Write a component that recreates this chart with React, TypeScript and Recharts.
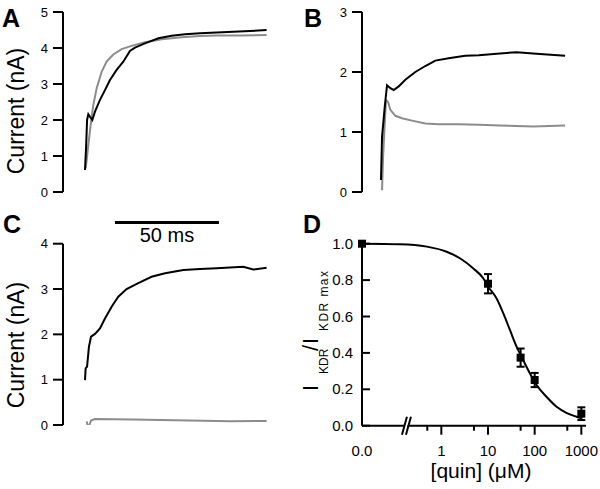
import React from "react";
import {
  LineChart,
  Line,
  XAxis,
  YAxis,
  ComposedChart,
  Scatter,
  ErrorBar,
  ReferenceLine,
  ReferenceDot,
} from "recharts";

// traces: time in ms from the start of each trace, current in nA
const aCtrlTime = [0, 0.5, 1.0, 1.6, 2.4, 3.5, 4.8, 7.2, 9.6, 12, 15.2, 18.4, 21.6, 24, 28.8, 35.3, 41.7, 48.1, 55.3, 63.3, 71.3, 79.3, 87.3];
const aCtrlCurrent = [0.61, 1.21, 2.0, 2.16, 2.09, 2.0, 2.23, 2.56, 2.83, 3.11, 3.39, 3.62, 3.92, 4.01, 4.13, 4.27, 4.34, 4.38, 4.41, 4.43, 4.45, 4.47, 4.5];
const aDrugTime = [0.3, 0.7, 1.6, 2.9, 4.0, 5.6, 8.0, 10.4, 13.6, 17.6, 22.4, 28.8, 36.9, 46.5, 55.3, 63.3, 75, 87.3];
const aDrugCurrent = [0.66, 0.84, 1.31, 1.95, 2.42, 2.88, 3.34, 3.62, 3.82, 3.97, 4.06, 4.16, 4.24, 4.3, 4.33, 4.35, 4.35, 4.36];

const bCtrlTime = [0, 0.5, 1.8, 2.9, 4.5, 6.1, 8.5, 11.7, 16.5, 21.3, 26.1, 32.5, 40.5, 47, 57.2, 65.2, 76.4, 88.5];
const bCtrlCurrent = [0.2, 0.92, 1.42, 1.78, 1.73, 1.7, 1.76, 1.87, 2.0, 2.1, 2.19, 2.23, 2.27, 2.28, 2.31, 2.33, 2.3, 2.27];
const bDrugTime = [0.5, 1.0, 1.8, 2.4, 3.4, 4.5, 6.9, 10.1, 14.9, 21.3, 27.7, 37.3, 47, 57.2, 73.2, 88.5];
const bDrugCurrent = [0.03, 0.59, 1.14, 1.53, 1.5, 1.37, 1.27, 1.23, 1.19, 1.14, 1.13, 1.13, 1.12, 1.11, 1.09, 1.11];

const cCtrlTime = [0, 0.3, 1.0, 1.9, 2.9, 4.8, 7.2, 9.6, 12.8, 16, 20, 25.6, 32, 38.5, 47.3, 55.3, 63.3, 76.1, 80.9, 87.3];
const cCtrlCurrent = [0.99, 1.25, 1.29, 1.73, 1.95, 2.01, 2.13, 2.35, 2.61, 2.83, 3.0, 3.13, 3.27, 3.35, 3.42, 3.44, 3.46, 3.49, 3.43, 3.47];
const cDrugTime = [0.8, 1.6, 2.9, 4.8, 23, 50, 70, 87.3];
const cDrugCurrent = [0.08, -0.07, 0.1, 0.13, 0.12, 0.1, 0.08, 0.09];

const aTicks = [0, 1, 2, 3, 4, 5];
const bTicks = [0, 1, 2, 3];
const cTicks = [0, 1, 2, 3, 4];

// scale bar (ms), drawn in panel C
const SCALE_BAR_START = 14.4;
const SCALE_BAR_MS = 50;

// dose-response
const doseConc = [0, 10, 50, 100, 1000];
const doseFrac = [1.0, 0.78, 0.374, 0.251, 0.066];
const doseSem = [0, 0.053, 0.05, 0.039, 0.035];

const fitConc = [0, 0.13, 0.49, 1.3, 2.5, 4.8, 7.9, 10, 15.2, 21.2, 29.5, 41, 56.7, 78.9, 110, 179, 295, 478, 789, 1000];
const fitFrac = [1.0, 0.997, 0.984, 0.956, 0.92, 0.865, 0.81, 0.765, 0.7, 0.618, 0.526, 0.434, 0.361, 0.288, 0.224, 0.159, 0.104, 0.071, 0.049, 0.04];

const dTickConc = [0, 0.5, 1, 5, 10, 50, 100, 500, 1000];
const dTickLabels = ["0.0", "", "1", "", "10", "", "100", "", "1000"];
const dYTicks = [0, 0.2, 0.4, 0.6, 0.8, 1.0];

const PX_PER_MS = 2.08;
const ZERO_POS = -1.7; // where 0 µM sits on the broken log axis
const FONT = "'Liberation Sans', Arial, Helvetica, sans-serif";

const toAxis = (c: number) => (c === 0 ? ZERO_POS : Math.log10(c));
const zip = (t: number[], v: number[]) => t.map((x, i) => ({ x, y: v[i] }));

// y ticks of the current traces: tick points out, label to its left
const TraceYTick = (props: any) => {
  const { x, y, payload } = props;
  return (
    <g>
      <line x1={x + 5} y1={y} x2={x + 15} y2={y} stroke="#000" strokeWidth={2} />
      <text x={x} y={y + 4.5} textAnchor="end" fontSize={13} fill="#000">
        {payload.value}
      </text>
    </g>
  );
};

function TracePanel(props: any) {
  const { left, top, height, marginTop, plotHeight, axisWidth, startOffset, yMax, ticks, ctrl, drug, scaleBar } = props;
  const rightMargin = 28;
  const plotWidth = 300 - axisWidth - rightMargin;
  const t0 = -startOffset / PX_PER_MS;
  return (
    <div style={{ position: "absolute", left, top }}>
      <LineChart
        width={300}
        height={height}
        margin={{ top: marginTop, right: rightMargin, bottom: height - marginTop - plotHeight, left: 0 }}
      >
        <XAxis type="number" dataKey="x" hide domain={[t0, t0 + plotWidth / PX_PER_MS]} allowDataOverflow />
        <YAxis
          type="number"
          width={axisWidth}
          domain={[0, yMax]}
          ticks={ticks}
          allowDataOverflow
          interval={0}
          axisLine={{ stroke: "#000", strokeWidth: 2 }}
          tickLine={false}
          tickSize={10}
          tickMargin={5}
          tick={<TraceYTick />}
        />
        <Line data={drug} dataKey="y" stroke="#8c8c8c" strokeWidth={2} dot={false} isAnimationActive={false} />
        <Line data={ctrl} dataKey="y" stroke="#000" strokeWidth={2} dot={false} isAnimationActive={false} />
        {scaleBar && (
          <ReferenceLine
            segment={[
              { x: SCALE_BAR_START, y: 4.47 },
              { x: SCALE_BAR_START + SCALE_BAR_MS, y: 4.47 },
            ]}
            ifOverflow="visible"
            stroke="#000"
            strokeWidth={3}
            label={{ value: `${SCALE_BAR_MS} ms`, position: "bottom", offset: 5, fontSize: 20, fill: "#000" }}
          />
        )}
      </LineChart>
    </div>
  );
}

const DXTick = (props: any) => {
  const { x, y, payload } = props;
  const idx = dTickConc.findIndex((c) => Math.abs(toAxis(c) - payload.value) < 1e-6);
  const label = idx >= 0 ? dTickLabels[idx] : "";
  const major = label !== "";
  return (
    <g>
      {idx !== 0 && (
        <line x1={x} y1={y} x2={x} y2={y + (major ? 9 : 5)} stroke="#000" strokeWidth={2} />
      )}
      {major && (
        <text x={x} y={y + 30} textAnchor="middle" fontSize={15} fill="#000">
          {label}
        </text>
      )}
    </g>
  );
};

const DYTick = (props: any) => {
  const { x, y, payload } = props;
  return (
    <g>
      <line x1={x + 9} y1={y} x2={x + 17} y2={y} stroke="#000" strokeWidth={2} />
      <text x={x} y={y + 5} textAnchor="end" fontSize={15} fill="#000">
        {Number(payload.value).toFixed(1)}
      </text>
    </g>
  );
};

const AxisBreak = (props: any) => {
  const { cx, cy } = props;
  return (
    <g>
      <polygon points={`${cx - 4},${cy + 9} ${cx + 1},${cy - 9} ${cx + 4},${cy - 9} ${cx - 1},${cy + 9}`} fill="#fff" />
      <line x1={cx - 4} y1={cy + 9} x2={cx + 1} y2={cy - 9} stroke="#000" strokeWidth={2} />
      <line x1={cx} y1={cy + 9} x2={cx + 5} y2={cy - 9} stroke="#000" strokeWidth={2} />
    </g>
  );
};

function DosePanel() {
  const points = doseConc.map((c, i) => ({ x: toAxis(c), y: doseFrac[i], err: doseSem[i] }));
  const fit = fitConc.map((c, i) => ({ x: toAxis(c), y: fitFrac[i] }));
  return (
    <div style={{ position: "absolute", left: 300, top: 200 }}>
      <ComposedChart width={300} height={289} margin={{ top: 43.7, right: 14, bottom: 23.3, left: 0 }}>
        <XAxis
          type="number"
          dataKey="x"
          height={40}
          domain={[ZERO_POS, 3.1]}
          ticks={dTickConc.map(toAxis)}
          interval={0}
          axisLine={{ stroke: "#000", strokeWidth: 2 }}
          tickLine={false}
          tickSize={0}
          tickMargin={0}
          tick={<DXTick />}
        />
        <YAxis
          type="number"
          width={62}
          domain={[0, 1]}
          ticks={dYTicks}
          interval={0}
          axisLine={{ stroke: "#000", strokeWidth: 2 }}
          tickLine={false}
          tickSize={0}
          tickMargin={9}
          tick={<DYTick />}
        />
        <Line data={fit} dataKey="y" type="monotone" stroke="#000" strokeWidth={2} dot={false} isAnimationActive={false} />
        <Scatter data={points} dataKey="y" shape="square" fill="#000" isAnimationActive={false}>
          <ErrorBar dataKey="err" direction="y" width={4} stroke="#000" strokeWidth={2} isAnimationActive={false} />
        </Scatter>
        <ReferenceDot x={-0.758} y={0} r={0} ifOverflow="visible" shape={<AxisBreak />} zIndex={1000} />
      </ComposedChart>
    </div>
  );
}

export default function App() {
  return (
    <div
      style={{
        position: "absolute",
        left: 0,
        top: 0,
        width: 600,
        height: 489,
        background: "#fff",
        fontFamily: FONT,
        overflow: "hidden",
      }}
    >
      <TracePanel
        left={0}
        top={0}
        height={210}
        marginTop={12}
        plotHeight={180}
        axisWidth={63}
        startOffset={22}
        yMax={5}
        ticks={aTicks}
        ctrl={zip(aCtrlTime, aCtrlCurrent)}
        drug={zip(aDrugTime, aDrugCurrent)}
      />
      <TracePanel
        left={300}
        top={0}
        height={210}
        marginTop={12}
        plotHeight={180}
        axisWidth={62}
        startOffset={19}
        yMax={3}
        ticks={bTicks}
        ctrl={zip(bCtrlTime, bCtrlCurrent)}
        drug={zip(bDrugTime, bDrugCurrent)}
      />
      <TracePanel
        left={0}
        top={200}
        height={250}
        marginTop={43.7}
        plotHeight={181.3}
        axisWidth={63}
        startOffset={22}
        yMax={4}
        ticks={cTicks}
        ctrl={zip(cCtrlTime, cCtrlCurrent)}
        drug={zip(cDrugTime, cDrugCurrent)}
        scaleBar
      />
      <DosePanel />
      <svg
        width={600}
        height={489}
        style={{ position: "absolute", left: 0, top: 0, pointerEvents: "none" }}
        fontFamily={FONT}
      >
        <g fontWeight="bold" fontSize={25} fill="#000">
          <text x={2} y={27}>A</text>
          <text x={304} y={27}>B</text>
          <text x={3} y={233}>C</text>
          <text x={303} y={233}>D</text>
        </g>
        <text x={24} y={111} fontSize={23} textAnchor="middle" transform="rotate(-90 24 111)">
          Current (nA)
        </text>
        <text x={24} y={345} fontSize={23} textAnchor="middle" transform="rotate(-90 24 345)">
          Current (nA)
        </text>
        <text x={481} y={478} fontSize={21} textAnchor="middle">
          [quin] (μM)
        </text>
        <g fontSize={22}>
          <text x={318} y={391} transform="rotate(-90 318 391)">I</text>
          <text x={328} y={374} fontSize={12} transform="rotate(-90 328 374)">KDR</text>
          <text x={318} y={351} transform="rotate(-90 318 351)">/</text>
          <text x={318} y={344} transform="rotate(-90 318 344)">I</text>
          <text x={328} y={331} fontSize={12} textLength={60} lengthAdjust="spacing" transform="rotate(-90 328 331)">
            KDR max
          </text>
        </g>
      </svg>
    </div>
  );
}
